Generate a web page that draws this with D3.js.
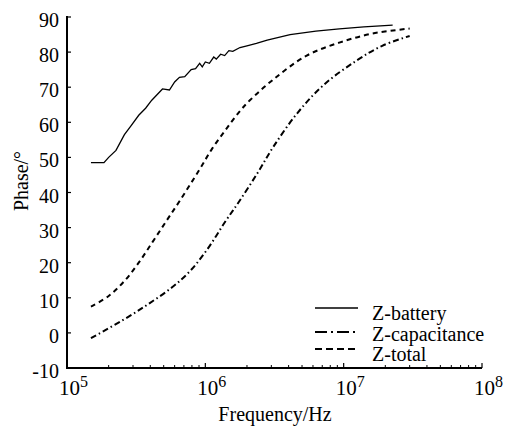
<!DOCTYPE html>
<meta charset="utf-8">
<style>
  body { margin: 0; background: #fff; }
  svg text { font-family: "Liberation Serif", "DejaVu Serif", serif; }
</style>
<svg width="507" height="429"></svg>
<script src="https://d3js.org/d3.v7.min.js"></script>
<script>

// values: [frequency in Hz, phase in degrees]
var battery = [
  [1.49e5, 48.5], [1.85e5, 48.5], [2.0e5, 50], [2.26e5, 52], [2.6e5, 56.5],
  [2.9e5, 59], [3.3e5, 62], [3.7e5, 64], [4.1e5, 66.3], [4.9e5, 69.5],
  [5.5e5, 69.2], [6.0e5, 71.5], [6.5e5, 72.8], [7.1e5, 73], [7.9e5, 75],
  [8.5e5, 75.3], [9.1e5, 76.8], [9.5e5, 75.8], [1.0e6, 77.2], [1.07e6, 76.8],
  [1.15e6, 78.6], [1.2e6, 78], [1.29e6, 79.4], [1.38e6, 79], [1.48e6, 80.4],
  [1.58e6, 80.2], [1.78e6, 81.3], [2.0e6, 81.8], [2.34e6, 82.5], [2.8e6, 83.4],
  [4.1e6, 85], [6.3e6, 86], [9.3e6, 86.6], [1.4e7, 87.2], [2.26e7, 87.7]
]

var capacitance = [
  [1.49e5, -1.5], [2.5e5, 3.5], [3.9e5, 8.3], [5.75e5, 13], [7.7e5, 17.5],
  [1.02e6, 23.5], [1.41e6, 32], [1.76e6, 37.5], [2.38e6, 45.5], [3.1e6, 53],
  [4.6e6, 62.5], [7.1e6, 70.5], [1.23e7, 77.5], [1.9e7, 81.8], [3.0e7, 84.6]
]

var total = [
  [1.49e5, 7.5], [2.0e5, 10.5], [2.63e5, 15], [3.3e5, 20], [4.17e5, 26],
  [5.25e5, 32], [6.5e5, 37.5], [9.06e5, 46.5], [1.12e6, 52.5], [1.41e6, 58],
  [1.76e6, 63], [2.09e6, 66.2], [3.1e6, 72.2], [5.4e6, 79], [9.3e6, 82.7],
  [1.62e7, 85.3], [3.0e7, 86.7]
]

var yTicks = [-10, 0, 10, 20, 30, 40, 50, 60, 70, 80, 90]
var xDecades = [5, 6, 7, 8]
var legendLabels = ['Z-battery', 'Z-capacitance', 'Z-total']

var svg = d3.select('svg')

var x = d3.scaleLog().domain([1e5, 1e8]).range([67, 482])
var y = d3.scaleLinear().domain([-10, 90]).range([368, 17])

// x minor ticks 2..9 x 10^n
var minor = []
for (var d = 5; d < 8; d++) {
  for (var m = 2; m <= 9; m++) minor.push(m * Math.pow(10, d))
}

var axes = svg.append('g').attr('stroke', '#000')

axes.selectAll('line.minor')
  .data(minor)
  .enter().append('line')
    .attr('x1', function (f) { return x(f) })
    .attr('x2', function (f) { return x(f) })
    .attr('y1', 368)
    .attr('y2', 365)
    .attr('stroke-width', 1)

axes.selectAll('line.major')
  .data(xDecades)
  .enter().append('line')
    .attr('x1', function (e) { return x(Math.pow(10, e)) })
    .attr('x2', function (e) { return x(Math.pow(10, e)) })
    .attr('y1', 368)
    .attr('y2', 363)
    .attr('stroke-width', 1.2)

axes.selectAll('line.ytick')
  .data(yTicks)
  .enter().append('line')
    .attr('x1', 67)
    .attr('x2', 71)
    .attr('y1', function (v) { return y(v) })
    .attr('y2', function (v) { return y(v) })
    .attr('stroke-width', 1.2)

axes.append('line')
  .attr('x1', 67).attr('x2', 67)
  .attr('y1', y(90) - 1).attr('y2', y(-10) + 1)
  .attr('stroke-width', 2)
axes.append('line')
  .attr('x1', 66).attr('x2', 482)
  .attr('y1', y(-10)).attr('y2', y(-10))
  .attr('stroke-width', 2)

// y tick labels
svg.append('g').selectAll('text')
  .data(yTicks)
  .enter().append('text')
    .attr('x', 59)
    .attr('y', function (v) { return y(v) })
    .attr('dy', '0.5em')
    .attr('text-anchor', 'end')
    .attr('font-size', 20)
    .text(function (v) { return v })

// x tick labels 10^n
var xl = svg.append('g').selectAll('text')
  .data(xDecades)
  .enter().append('text')
    .attr('x', function (e) { return x(Math.pow(10, e)) - 8 })
    .attr('y', 395)
    .attr('font-size', 21)
xl.append('tspan').text('10')
xl.append('tspan')
  .attr('dy', -8)
  .attr('font-size', 16)
  .text(function (e) { return e })

svg.append('text')
  .attr('x', 275)
  .attr('y', 421)
  .attr('text-anchor', 'middle')
  .attr('font-size', 20)
  .text('Frequency/Hz')

svg.append('text')
  .attr('transform', 'translate(28,181) rotate(-90)')
  .attr('text-anchor', 'middle')
  .attr('font-size', 20)
  .text('Phase/°')

var line = d3.line()
  .x(function (p) { return x(p[0]) })
  .y(function (p) { return y(p[1]) })

var smooth = d3.line()
  .curve(d3.curveCatmullRom)
  .x(function (p) { return x(p[0]) })
  .y(function (p) { return y(p[1]) })

var series = [
  { data: battery, path: line, dash: null, width: 1.3 },
  { data: capacitance, path: smooth, dash: '6,3,1.5,3', width: 2 },
  { data: total, path: smooth, dash: '5,4', width: 2 }
]

svg.append('g').selectAll('path')
  .data(series)
  .enter().append('path')
    .attr('d', function (s) { return s.path(s.data) })
    .attr('fill', 'none')
    .attr('stroke', '#000')
    .attr('stroke-width', function (s) { return s.width })
    .attr('stroke-dasharray', function (s) { return s.dash })

// legend
var legendY = [308, 332, 349]
var legendText = [320, 341, 361]
var legendDash = [null, '12,4,2,4', '7,4']
var lg = svg.append('g')
lg.selectAll('line')
  .data(legendLabels)
  .enter().append('line')
    .attr('x1', 315).attr('x2', 358)
    .attr('y1', function (d, i) { return legendY[i] })
    .attr('y2', function (d, i) { return legendY[i] })
    .attr('stroke', '#000')
    .attr('stroke-width', function (d, i) { return i === 0 ? 1.3 : 2.2 })
    .attr('stroke-dasharray', function (d, i) { return legendDash[i] })
lg.selectAll('text')
  .data(legendLabels)
  .enter().append('text')
    .attr('x', 372)
    .attr('y', function (d, i) { return legendText[i] })
    .attr('font-size', 20)
    .text(function (d) { return d })
</script>
